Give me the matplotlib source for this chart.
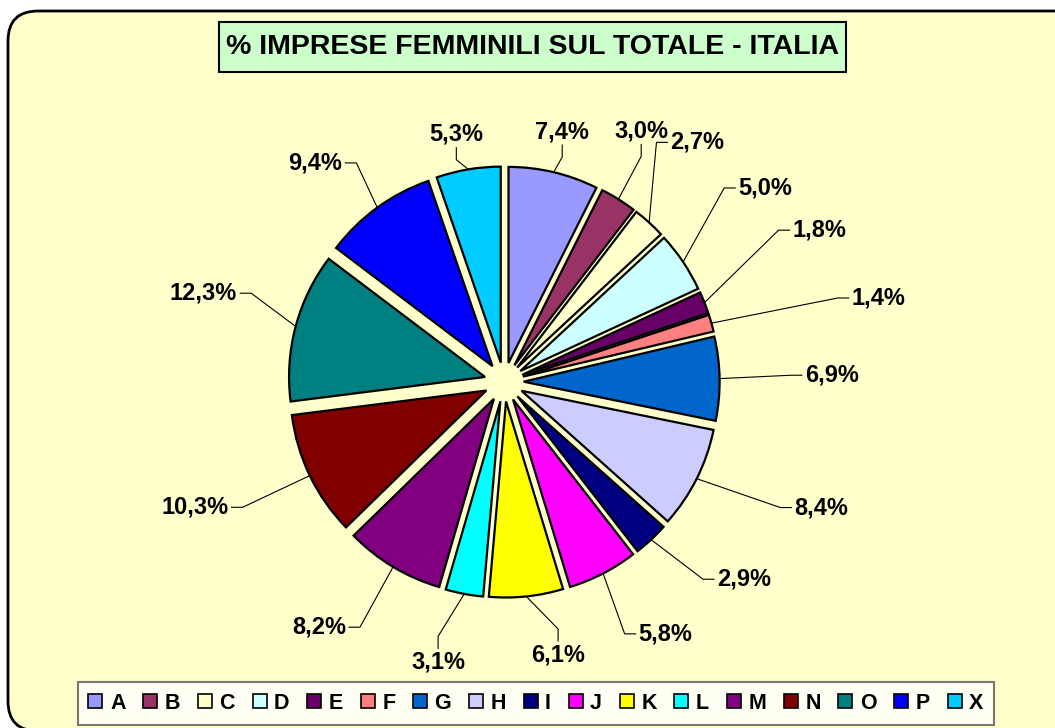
import numpy as np
import matplotlib
matplotlib.use("Agg")
import matplotlib.pyplot as plt
from matplotlib.patches import FancyBboxPatch, Rectangle, Patch

plt.rcParams['font.family'] = ['Liberation Sans', 'DejaVu Sans']

# data
categories = ['A', 'B', 'C', 'D', 'E', 'F', 'G', 'H', 'I', 'J', 'K', 'L', 'M', 'N', 'O', 'P', 'X']
values = [7.4, 3.0, 2.7, 5.0, 1.8, 1.4, 6.9, 8.4, 2.9, 5.8, 6.1, 3.1, 8.2, 10.3, 12.3, 9.4, 5.3]
colors = ['#9999FF', '#993366', '#FFFFCC', '#CCFFFF', '#660066', '#FF8080', '#0066CC', '#CCCCFF',
          '#000080', '#FF00FF', '#FFFF00', '#00FFFF', '#800080', '#800000', '#008080', '#0000FF', '#00CCFF']
title = '% IMPRESE FEMMINILI SUL TOTALE - ITALIA'

# label placement (angle in degrees, distance in pie radii), as Excel laid them out
label_angle = [76.2, 60.0, 55.7, 40.0, 28.0, 13.7, 1.3, -23.6, -43.2, -62.4, -78.2, -103.9,
               -122.3, -155.3, 161.4, 125.9, 101.5]
label_radius = [1.245, 1.40, 1.48, 1.54, 1.65, 1.81, 1.52, 1.60, 1.47, 1.45, 1.35, 1.40,
                1.48, 1.53, 1.42, 1.38, 1.22]
# leader stub direction: v = vertical (label above/below), h = horizontal
label_stub = ['v', 'v', 'h', 'h', 'h', 'h', 'h', 'h', 'h', 'h', 'v', 'v', 'h', 'h', 'h', 'h', 'v']

W, H = 1055, 728
fig = plt.figure(figsize=(W / 100, H / 100), dpi=100, facecolor='white')
ax = fig.add_axes([0, 0, 1, 1])

# rounded chart area
frame = FancyBboxPatch((8, -3), 1100, H - 11 + 3, boxstyle='round,pad=0,rounding_size=30',
                       facecolor='#FFFFCC', edgecolor='black', linewidth=2, zorder=0)
ax.add_patch(frame)

# pie
R = 196
cx, cy = 504, H - 382
expl = 0.1 * R
wedges, _ = ax.pie(values, colors=colors, startangle=90, counterclock=False,
                   explode=[expl] * len(values), radius=R, center=(cx, cy),
                   wedgeprops=dict(edgecolor='black', linewidth=1.6))

# labels with leader lines
for w, v, la, lr, st in zip(wedges, values, label_angle, label_radius, label_stub):
    mid = np.deg2rad((w.theta1 + w.theta2) / 2)
    ex, ey = cx + (R + expl) * np.cos(mid), cy + (R + expl) * np.sin(mid)
    a = np.deg2rad(la)
    px, py = cx + lr * R * np.cos(a), cy + lr * R * np.sin(a)
    txt = f'{v:.1f}%'.replace('.', ',')
    if st == 'v':
        s = 1 if np.sin(a) > 0 else -1
        sx, sy = px, py - s * 12
        ax.text(px, py + s * 2, txt, ha='center', va='bottom' if s > 0 else 'top',
                fontsize=17, fontweight='bold')
    else:
        s = 1 if np.cos(a) > 0 else -1
        sx, sy = px - s * 11, py
        ax.text(px + s * 3, py, txt, ha='left' if s > 0 else 'right', va='center',
                fontsize=17, fontweight='bold')
    ax.plot([ex, sx, px], [ey, sy, py], color='black', linewidth=0.8, zorder=3)

# title box
ax.add_patch(Rectangle((219, H - 72), 627, 50, facecolor='#CCFFCC', edgecolor='black',
                       linewidth=1.5, zorder=2))
ax.text(533, H - 47, title, ha='center', va='center', fontsize=20.5, fontweight='bold', zorder=3)

ax.set_xlim(0, W)
ax.set_ylim(0, H)
ax.set_aspect('equal')
ax.axis('off')

# legend
handles = [Patch(facecolor=c, edgecolor='black', linewidth=1.2) for c in colors]
leg = fig.legend(handles, categories, ncol=len(categories), loc='upper center',
                 bbox_to_anchor=(536 / W, 1 - 682 / H),
                 prop={'weight': 'bold', 'size': 15.5}, frameon=True, fancybox=False,
                 handlelength=0.65, handleheight=0.65, handletextpad=0.35,
                 columnspacing=0.82, borderpad=0.5, borderaxespad=0)
leg.get_frame().set_edgecolor('#555555')
leg.get_frame().set_linewidth(1.5)
leg.get_frame().set_facecolor('white')

fig.savefig('out.png', dpi=100, facecolor='white')
